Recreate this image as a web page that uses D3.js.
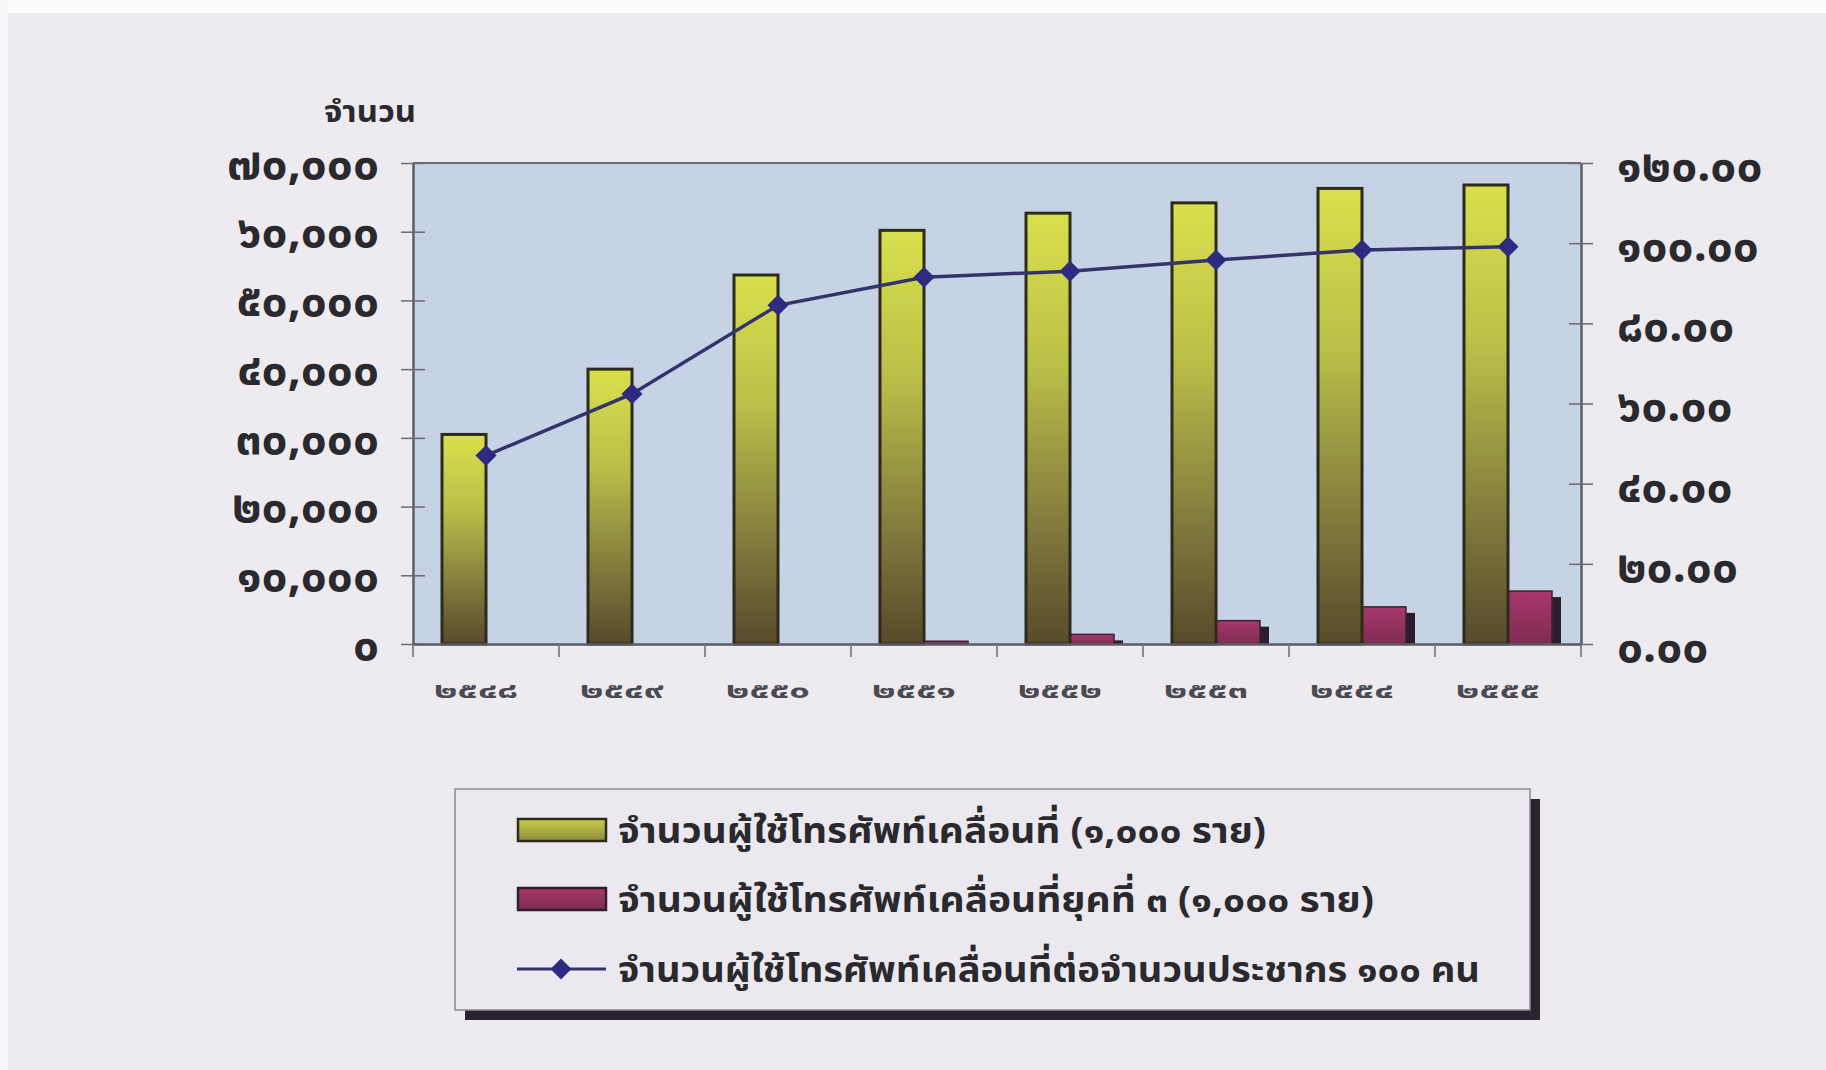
<!DOCTYPE html>
<html>
<head>
<meta charset="utf-8">
<script src="https://cdn.jsdelivr.net/npm/d3@7"></script>
<style>
  body { margin: 0; background: #ffffff; }
  svg { display: block; }
  .tick text { font-family: "Noto Sans Thai", "Noto Sans", "DejaVu Sans", sans-serif; }
</style>
</head>
<body>
<svg id="chart" width="1826" height="1070"></svg>
<script>
var years = ["๒๕๔๘", "๒๕๔๙", "๒๕๕๐", "๒๕๕๑", "๒๕๕๒", "๒๕๕๓", "๒๕๕๔", "๒๕๕๕"];
var mobileUsers = [30500, 40000, 53700, 60200, 62700, 64200, 66300, 66800];
var users3G = [0, 0, 0, 400, 1400, 3400, 5400, 7700];
var per100 = [47.0, 62.4, 84.5, 91.5, 93.0, 95.8, 98.3, 99.1];
var leftTicks = [0, 10000, 20000, 30000, 40000, 50000, 60000, 70000];
var rightTicks = [0, 20, 40, 60, 80, 100, 120];
var yTitle = "จำนวน";
var legendText = [
    "จำนวนผู้ใช้โทรศัพท์เคลื่อนที่ (๑,๐๐๐ ราย)",
    "จำนวนผู้ใช้โทรศัพท์เคลื่อนที่ยุคที่ ๓ (๑,๐๐๐ ราย)",
    "จำนวนผู้ใช้โทรศัพท์เคลื่อนที่ต่อจำนวนประชากร ๑๐๐ คน"
];

var thaiFont = '"Noto Sans Thai", "Noto Sans", "DejaVu Sans", sans-serif';
var thaiDigits = "๐๑๒๓๔๕๖๗๘๙";
function toThai(s) {
    return s.replace(/[0-9]/g, function (d) { return thaiDigits[+d]; });
}

var plotLeft = 413, plotRight = 1581, plotTop = 163, plotBottom = 644;
var svg = d3.select('#chart');

// page background
svg.append('rect').attr('width', 1826).attr('height', 1070).attr('fill', '#eeebf0');
svg.append('rect').attr('width', 1826).attr('height', 13).attr('fill', '#fdfcfd');
svg.append('rect').attr('width', 8).attr('height', 1070).attr('fill', '#f8f6f9');

var defs = svg.append('defs');
var gGreen = defs.append('linearGradient').attr('id', 'gGreen')
    .attr('x1', 0).attr('y1', 0).attr('x2', 0).attr('y2', 1);
gGreen.append('stop').attr('offset', '0%').attr('stop-color', '#d9e04c');
gGreen.append('stop').attr('offset', '35%').attr('stop-color', '#b9c048');
gGreen.append('stop').attr('offset', '70%').attr('stop-color', '#857f3e');
gGreen.append('stop').attr('offset', '100%').attr('stop-color', '#584a2c');

var gPurple = defs.append('linearGradient').attr('id', 'gPurple')
    .attr('x1', 0).attr('y1', 0).attr('x2', 0).attr('y2', 1);
gPurple.append('stop').attr('offset', '0%').attr('stop-color', '#a8386a');
gPurple.append('stop').attr('offset', '100%').attr('stop-color', '#7e2c52');

var gSwatch = defs.append('linearGradient').attr('id', 'gSwatch')
    .attr('x1', 0).attr('y1', 0).attr('x2', 0).attr('y2', 1);
gSwatch.append('stop').attr('offset', '0%').attr('stop-color', '#c9d048');
gSwatch.append('stop').attr('offset', '100%').attr('stop-color', '#8a8a3c');

// scales
var x = d3.scaleBand().domain(years).range([plotLeft, plotRight]).padding(0);
var half = 44;
var sub = d3.scaleBand().domain(['all', 'g3'])
    .range([x.bandwidth() / 2 - half, x.bandwidth() / 2 + half]).padding(0);
var y = d3.scaleLinear().domain([0, 70000]).range([plotBottom, plotTop]);
var y2 = d3.scaleLinear().domain([0, 120]).range([plotBottom, plotTop]);

// plot area
svg.append('rect')
    .attr('x', plotLeft).attr('y', plotTop)
    .attr('width', plotRight - plotLeft).attr('height', plotBottom - plotTop)
    .attr('fill', '#c6d3e5');
svg.append('line')
    .attr('x1', plotLeft).attr('x2', plotRight).attr('y1', plotTop).attr('y2', plotTop)
    .attr('stroke', '#6a6a70').attr('stroke-width', 2);

// bars
var groups = svg.append('g').selectAll('g')
    .data(years)
    .enter().append('g')
    .attr('transform', function (d) { return 'translate(' + x(d) + ',0)'; });

groups.append('rect')
    .attr('x', sub('g3') + 9)
    .attr('y', function (d, i) { return y(users3G[i]) + 6; })
    .attr('width', sub.bandwidth())
    .attr('height', function (d, i) { return Math.max(0, plotBottom - y(users3G[i]) - 6); })
    .attr('fill', '#2b1e2a');

groups.append('rect')
    .attr('x', sub('g3'))
    .attr('y', function (d, i) { return y(users3G[i]); })
    .attr('width', sub.bandwidth())
    .attr('height', function (d, i) { return plotBottom - y(users3G[i]); })
    .attr('fill', 'url(#gPurple)')
    .attr('stroke', '#3a2232')
    .attr('stroke-width', function (d, i) { return users3G[i] > 0 ? 1.5 : 0; });

groups.append('rect')
    .attr('x', sub('all'))
    .attr('y', function (d, i) { return y(mobileUsers[i]); })
    .attr('width', sub.bandwidth())
    .attr('height', function (d, i) { return plotBottom - y(mobileUsers[i]); })
    .attr('fill', 'url(#gGreen)')
    .attr('stroke', '#2e2b1c')
    .attr('stroke-width', 3);

// axes
var yAxis = d3.axisLeft(y).tickValues(leftTicks)
    .tickSizeInner(12).tickSizeOuter(0).tickPadding(22)
    .tickFormat(function (d) { return toThai(d3.format(',')(d)); });
var y2Axis = d3.axisRight(y2).tickValues(rightTicks)
    .tickSizeInner(12).tickSizeOuter(0).tickPadding(24)
    .tickFormat(function (d) { return toThai(d3.format('.2f')(d)); });
var xAxis = d3.axisBottom(x).tickSize(0).tickPadding(38);

var gy = svg.append('g').attr('transform', 'translate(' + plotLeft + ',0)').call(yAxis);
var gy2 = svg.append('g').attr('transform', 'translate(' + plotRight + ',0)').call(y2Axis);
var gx = svg.append('g').attr('transform', 'translate(0,' + plotBottom + ')').call(xAxis);

[gy, gy2, gx].forEach(function (g) {
    g.select('.domain').attr('stroke', '#5c5c66').attr('stroke-width', 2.5);
    g.selectAll('.tick line').attr('stroke', '#6a6a72').attr('stroke-width', 1.5);
});
gy.selectAll('.tick line').attr('x2', -12).attr('x1', 12);
gy2.selectAll('.tick line').attr('x1', -12).attr('x2', 12);

gy.selectAll('.tick text').attr('font-size', 46).attr('font-weight', 'bold').attr('fill', '#2a2a2e')
    .attr('dy', '0.33em');
gy2.selectAll('.tick text').attr('font-size', 46).attr('font-weight', 'bold').attr('fill', '#2a2a2e')
    .attr('dy', '0.38em');
gx.selectAll('.tick text').attr('font-size', 22).attr('font-weight', 'bold').attr('fill', '#4a4a52')
    .attr('dx', -10)
    .attr('textLength', 84).attr('lengthAdjust', 'spacingAndGlyphs');

// category boundary ticks on the x axis
svg.append('g').selectAll('line')
    .data(years.concat(['end']))
    .enter().append('line')
    .attr('x1', function (d, i) { return plotLeft + i * x.bandwidth(); })
    .attr('x2', function (d, i) { return plotLeft + i * x.bandwidth(); })
    .attr('y1', plotBottom).attr('y2', plotBottom + 13)
    .attr('stroke', '#6a6a72').attr('stroke-width', 1.5);

// line series
var line = d3.line()
    .x(function (d, i) { return x(years[i]) + x.bandwidth() / 2; })
    .y(function (d) { return y2(d); });

svg.append('path')
    .datum(per100)
    .attr('d', line)
    .attr('fill', 'none')
    .attr('stroke', '#33346e')
    .attr('stroke-width', 3.5);

var marker = d3.symbol().type(d3.symbolSquare).size(220);
svg.append('g').selectAll('path')
    .data(per100)
    .enter().append('path')
    .attr('d', marker)
    .attr('transform', function (d, i) {
        return 'translate(' + (x(years[i]) + x.bandwidth() / 2) + ',' + y2(d) + ') rotate(45)';
    })
    .attr('fill', '#2e2a82');

// axis title
svg.append('text')
    .attr('x', 370).attr('y', 122)
    .attr('text-anchor', 'middle')
    .attr('font-family', thaiFont)
    .attr('font-size', 30)
    .attr('font-weight', 'bold')
    .attr('fill', '#2a2a2e')
    .attr('textLength', 92).attr('lengthAdjust', 'spacingAndGlyphs')
    .text(yTitle);

// legend
var legend = svg.append('g');
legend.append('rect')
    .attr('x', 465).attr('y', 799).attr('width', 1075).attr('height', 221)
    .attr('fill', '#2a2430');
legend.append('rect')
    .attr('x', 455).attr('y', 789).attr('width', 1075).attr('height', 221)
    .attr('fill', '#ebe9ef').attr('stroke', '#8a8a92').attr('stroke-width', 1.5);

var rowY = [830, 899, 969];
var rowWidth = [648, 756, 862];
legend.append('rect')
    .attr('x', 518).attr('y', rowY[0] - 11).attr('width', 88).attr('height', 22)
    .attr('fill', 'url(#gSwatch)').attr('stroke', '#2e2b1c').attr('stroke-width', 2.5);
legend.append('rect')
    .attr('x', 518).attr('y', rowY[1] - 11).attr('width', 88).attr('height', 22)
    .attr('fill', 'url(#gPurple)').attr('stroke', '#2e1e28').attr('stroke-width', 2.5);
legend.append('line')
    .attr('x1', 517).attr('x2', 606).attr('y1', rowY[2]).attr('y2', rowY[2])
    .attr('stroke', '#33346e').attr('stroke-width', 3);
legend.append('path')
    .attr('d', marker)
    .attr('transform', 'translate(561,' + rowY[2] + ') rotate(45)')
    .attr('fill', '#2e2a82');

legend.selectAll('text.leg')
    .data(legendText)
    .enter().append('text')
    .attr('class', 'leg')
    .attr('x', 618)
    .attr('y', function (d, i) { return rowY[i]; })
    .attr('dy', '0.35em')
    .attr('font-family', thaiFont)
    .attr('font-size', 36)
    .attr('font-weight', 'bold')
    .attr('fill', '#2a2a2e')
    .attr('textLength', function (d, i) { return rowWidth[i]; })
    .attr('lengthAdjust', 'spacingAndGlyphs')
    .text(function (d) { return d; });
</script>
</body>
</html>
